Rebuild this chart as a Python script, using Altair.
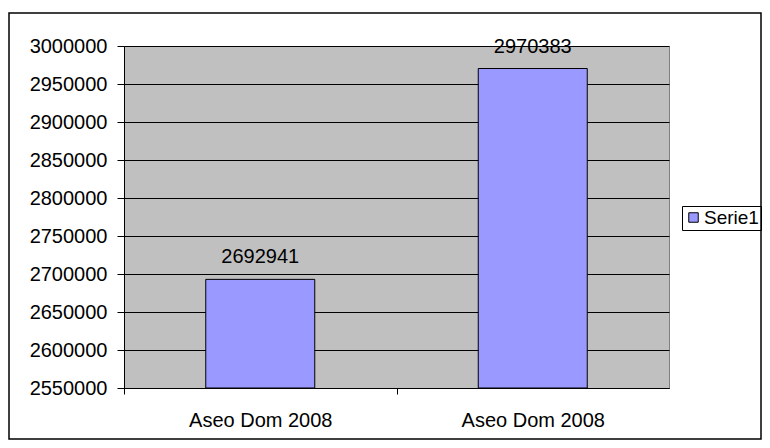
import json
import altair as alt
import pandas as pd

# ---- data ----
categories = ["Aseo Dom 2008", "Aseo Dom 2008"]
values = [2692941, 2970383]
series_name = "Serie1"
y_ticks = [2550000, 2600000, 2650000, 2700000, 2750000, 2800000,
           2850000, 2900000, 2950000, 3000000]

df = pd.DataFrame({
    "idx": list(range(len(categories))),
    "cat": categories,
    "value": values,
    "serie": [series_name] * len(categories),
})

FONT = "Liberation Sans"
FS = 20
label_expr = json.dumps(categories) + "[datum.value]"

x_enc = alt.X(
    "idx:O",
    scale=alt.Scale(paddingInner=0.6, paddingOuter=0.3),
    axis=alt.Axis(
        title=None, labelExpr=label_expr, labelAngle=0,
        domainColor="black", tickColor="black", tickSize=6,
        tickOffset=-136.25, labelOffset=136.25, labelPadding=16,
        labelFont=FONT, labelFontSize=FS, labelColor="black",
        labelOverlap=False, grid=False,
    ),
)
y_scale = alt.Scale(domain=[y_ticks[0], y_ticks[-1]], zero=False, nice=False)
y_enc = alt.Y(
    "value:Q", scale=y_scale,
    axis=alt.Axis(
        title=None, values=y_ticks, format="d",
        domainColor="black", tickColor="black", tickSize=7, labelPadding=10,
        labelFont=FONT, labelFontSize=FS, labelColor="black",
        labelOverlap=False, labelFlush=False, labelBound=False,
        grid=True, gridColor="black", gridWidth=1,
    ),
)

base = alt.Chart(df).encode(x=x_enc, y=y_enc)

bars = base.mark_bar(stroke="black", strokeWidth=1).encode(
    y2=alt.datum(y_ticks[0]),
    color=alt.Color(
        "serie:N",
        scale=alt.Scale(domain=[series_name], range=["#9999FF"]),
        legend=alt.Legend(
            title=None, orient="none", legendX=558, legendY=160,
            symbolType="square", symbolSize=90, symbolStrokeColor="black",
            symbolStrokeWidth=1, labelFont=FONT, labelFontSize=19,
            labelColor="black", strokeColor="black", padding=2,
            symbolOffset=0, labelOffset=1,
        ),
    ),
)

labels = base.mark_text(
    font=FONT, fontSize=FS, color="black", baseline="alphabetic", dy=-16
).encode(
    text=alt.Text("value:Q", format="d"),
)

frame = alt.Chart(pd.DataFrame({"a": [0]})).mark_rect(
    fill=None, stroke="black", strokeWidth=1.5
).encode(
    x=alt.value(-115), x2=alt.value(637), y=alt.value(-33), y2=alt.value(393)
)

chart = alt.layer(bars, labels, frame).properties(
    width=545, height=342,
    autosize=alt.AutoSizeParams(type="none"),
    padding={"left": 116, "top": 38, "right": 93, "bottom": 52},
    background="white",
).configure_view(
    fill="#C0C0C0", stroke="#808080", strokeWidth=1
)

chart.save("out.html", embed_options={"renderer": "svg", "actions": False})
